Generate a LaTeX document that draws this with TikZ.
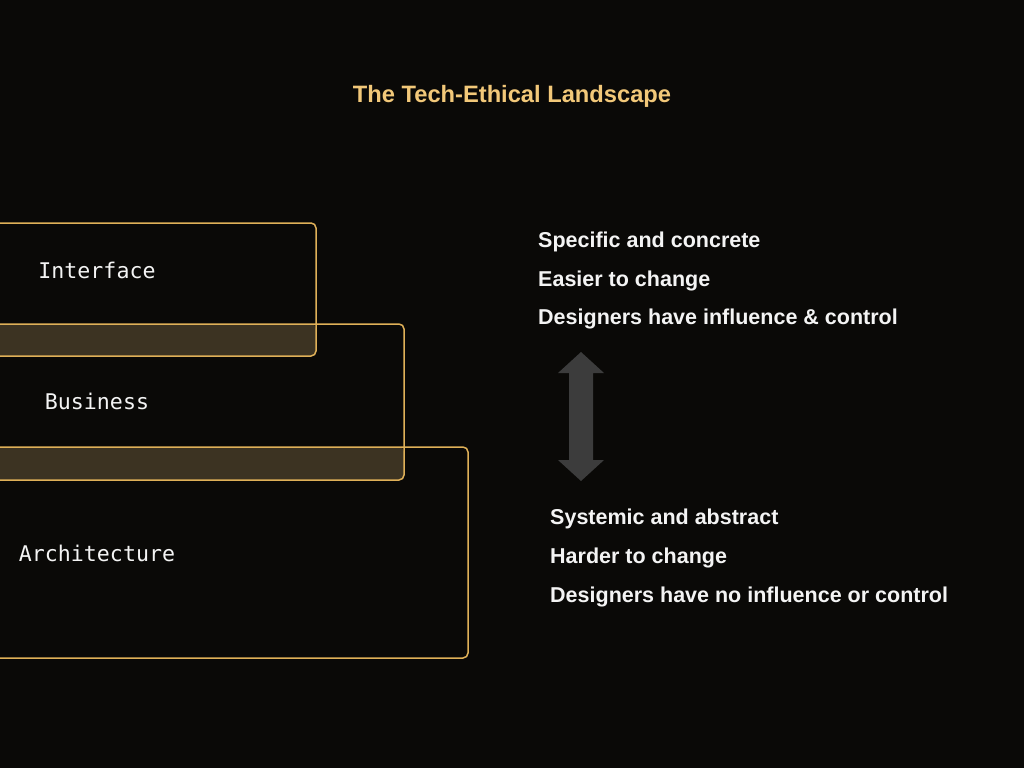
\documentclass[tikz,border=0pt]{standalone}
\usepackage{fontspec}
\setmainfont{Liberation Sans}
\newfontfamily\labelfont{DejaVu Sans Mono}

\definecolor{bgdark}{HTML}{0A0907}
\definecolor{goldline}{HTML}{DFB058}
\definecolor{goldtitle}{HTML}{F2C879}
\definecolor{overlap}{HTML}{3C3322}
\definecolor{arrowgray}{HTML}{3C3C3C}
\definecolor{textwhite}{HTML}{F4F4F4}

\begin{document}
\begin{tikzpicture}[
    x=1pt, y=-1pt,
    layer/.style={draw=goldline, line width=1.5pt, rounded corners=5pt},
    shared/.style={fill=overlap, rounded corners=5pt},
    layerlabel/.style={anchor=base, text=textwhite, font=\labelfont\fontsize{21.6}{24}\selectfont, inner sep=0pt},
    note/.style={anchor=base west, text=textwhite, font=\bfseries\fontsize{21.5}{26}\selectfont, inner sep=0pt}
]
    % Background
    \fill[bgdark] (0,0) rectangle (1024,768);
    \useasboundingbox (0,0) rectangle (1024,768);

    % Title
    \node[anchor=base, text=goldtitle, font=\bfseries\fontsize{23.7}{28}\selectfont, inner sep=0pt] (title) at (512,102) {The Tech-Ethical Landscape};

    % Stacked layers
    \begin{scope}
        \clip (0,0) rectangle (1024,768);
        \fill[shared] (-300,324) rectangle (316,356);
        \fill[shared] (-300,447) rectangle (404,480);
        \draw[layer] (-300,223) rectangle (316,356);
        \draw[layer] (-300,324) rectangle (404,480);
        \draw[layer] (-300,447) rectangle (468,658);
    \end{scope}

    \node[layerlabel] (interface) at (97,278) {Interface};
    \node[layerlabel] (business) at (97,409) {Business};
    \node[layerlabel] (architecture) at (97,561) {Architecture};

    % Upper notes
    \node[note] (specific) at (538,247) {Specific and concrete};
    \node[note] (easier) at (538,286) {Easier to change};
    \node[note] (influence) at (538,324) {Designers have influence \& control};

    % Double arrow
    \fill[arrowgray] (581,352) -- (604,373) -- (593,373) -- (593,460) -- (604,460)
        -- (581,481) -- (558,460) -- (569,460) -- (569,373) -- (558,373) -- cycle;

    % Lower notes
    \node[note] (systemic) at (550,524) {Systemic and abstract};
    \node[note] (harder) at (550,563) {Harder to change};
    \node[note] (noinfluence) at (550,602) {Designers have no influence or control};
\end{tikzpicture}
\end{document}
